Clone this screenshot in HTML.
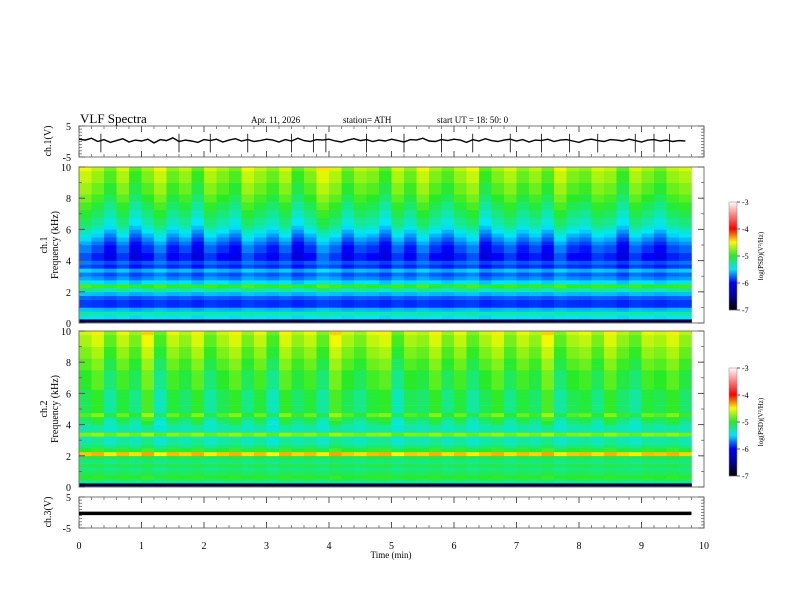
<!DOCTYPE html>
<html><head><meta charset="utf-8"><style>
html,body{margin:0;padding:0;background:#fff}
svg{display:block;font-family:"Liberation Serif",serif}
</style></head><body>
<svg id="chart" width="792" height="612" viewBox="0 0 792 612" xmlns="http://www.w3.org/2000/svg">
<g font-size="11">
<text x="80" y="123" font-size="13">VLF  Spectra</text>
<text x="251" y="123" font-size="9">Apr. 11, 2026</text>
<text x="343" y="123" font-size="9">station= ATH</text>
<text x="437" y="123" font-size="9">start  UT  =   18: 50: 0</text>
</g>
<g id="plots"></g>
</svg>
<script>
// ---------- data ----------
const timeTicks = [0,1,2,3,4,5,6,7,8,9,10];
const freqTicks = [0,2,4,6,8,10];
const cbTicks = [-3,-4,-5,-6,-7];
// log PSD profile per 0.25 kHz bin, from 0 kHz upward
const profile1 = [-6.8,-5.5,-5.3,-5.6,-5.9,-5.9,-5.8,-5.6,-5.3,-5.0,-5.5,-5.7,-5.8,-5.6,-5.9,-5.8,-6.0,-6.0,-5.9,-5.9,-5.8,-5.7,-5.6,-5.5,-5.4,-5.3,-5.3,-5.2,-5.2,-5.1,-5.1,-5.0,-5.0,-4.9,-4.9,-4.9,-4.8,-4.8,-4.8,-4.7];
const profile2 = [-6.8,-5.2,-5.0,-5.1,-5.2,-5.1,-5.2,-5.1,-4.4,-5.0,-5.2,-5.3,-5.3,-4.8,-5.3,-5.3,-5.2,-5.1,-4.9,-5.1,-5.1,-5.1,-5.1,-5.1,-5.1,-5.0,-5.0,-5.0,-5.0,-5.0,-4.9,-4.9,-4.9,-4.8,-4.8,-4.8,-4.7,-4.7,-4.7,-4.6];
// burst intensity per 0.2-min column
const bursts1 = [0.3,0.1,-0.2,0.2,-0.3,0.0,0.3,-0.1,0.1,-0.3,0.2,0.0,-0.2,0.3,0.1,-0.1,0.2,-0.3,0.0,0.4,0.2,-0.2,0.1,0.0,-0.3,0.2,-0.1,0.3,0.0,-0.2,0.1,0.3,-0.3,0.0,0.2,-0.1,0.1,-0.2,0.3,0.0,-0.1,0.2,0.1,-0.3,0.2,0.0,-0.2,0.1,0.2];
const bursts2 = [0.0,0.2,-0.3,0.1,-0.2,0.3,-0.4,0.1,-0.1,0.2,-0.3,0.0,0.2,-0.2,0.1,-0.4,0.2,-0.1,0.1,-0.3,0.3,0.0,-0.2,0.1,0.2,-0.4,0.0,-0.1,0.2,-0.2,0.1,-0.3,0.0,0.2,-0.2,0.1,-0.1,0.3,-0.3,0.0,0.1,-0.2,0.2,-0.1,-0.3,0.1,0.0,0.2,-0.1];
// ch1 waveform (V) sampled every 0.1 min
const ch1 = [1.0,0.8,1.2,0.5,0.9,0.3,0.7,1.1,0.4,0.8,0.6,1.0,0.2,0.9,0.7,1.3,0.5,0.8,0.6,0.3,0.9,0.7,1.0,0.4,0.8,1.1,0.6,0.9,0.5,0.7,1.0,0.8,0.4,0.9,0.6,1.2,0.7,0.5,0.9,0.8,1.0,0.6,0.4,0.8,1.1,0.7,0.9,0.5,0.8,0.6,1.0,0.7,0.4,0.9,0.8,1.2,0.6,0.5,0.9,0.7,1.0,0.8,0.3,0.9,0.6,1.1,0.7,0.5,0.8,1.0,0.6,0.9,0.4,0.8,0.7,1.0,0.5,0.8,0.9,0.6,0.3,0.8,1.0,0.7,0.5,0.9,0.8,0.6,1.0,0.7,0.4,0.8,0.9,0.6,0.8,0.5,0.7,0.6];
const ch1Spikes = [0.35,1.6,2.1,2.7,3.4,3.75,3.95,4.6,5.2,5.8,6.3,6.9,7.4,7.85,8.3,8.9,9.2,9.45];
const ch3Level = -0.3;

// ---------- layout ----------
const NS="http://www.w3.org/2000/svg";
const root=document.getElementById('plots');
const X0=79, X1=704;
const xs=t=>X0+(X1-X0)*t/10;
function el(tag,attrs,parent){const e=document.createElementNS(NS,tag);for(const k in attrs)e.setAttribute(k,attrs[k]);(parent||root).appendChild(e);return e;}
const stops=[[-7,[0,0,0]],[-6.5,[0,0,160]],[-6,[0,0,255]],[-5.5,[0,230,255]],[-5,[40,235,40]],[-4.5,[250,250,0]],[-4,[255,0,0]],[-3,[255,255,255]]];
function cmap(v){v=Math.max(-7,Math.min(-3,v));for(let i=0;i<stops.length-1;i++){const[a,ca]=stops[i],[b,cb]=stops[i+1];if(v<=b){const f=(v-a)/(b-a);return`rgb(${ca.map((c,j)=>Math.round(c+(cb[j]-c)*f)).join(',')})`;}}return'#fff';}

function frame(name,top,bot){
  const g=el('g',{});
  el('rect',{x:X0,y:top,width:X1-X0,height:bot-top,fill:'none',stroke:'#777','stroke-width':1},g);
  for(let t=0;t<=10.001;t+=0.2){const x=xs(t);const major=Math.abs(t-Math.round(t))<0.01;const L=major?6:3;
    el('line',{x1:x,y1:top,x2:x,y2:top+L,stroke:'#555','stroke-width':major?1:0.7},g);
    el('line',{x1:x,y1:bot,x2:x,y2:bot-L,stroke:'#555','stroke-width':major?1:0.7},g);}
  return g;
}
function yaxis(g,top,bot,lo,hi,ticks,minor){
  const ys=v=>bot-(v-lo)/(hi-lo)*(bot-top);
  for(let v=lo;v<=hi+1e-6;v+=minor){const y=ys(v);el('line',{x1:X0,y1:y,x2:X0+3,y2:y,stroke:'#555','stroke-width':0.7},g);el('line',{x1:X1,y1:y,x2:X1-3,y2:y,stroke:'#555','stroke-width':0.7},g);}
  ticks.forEach(v=>{const y=ys(v);el('line',{x1:X0,y1:y,x2:X0+6,y2:y,stroke:'#555'},g);el('line',{x1:X1,y1:y,x2:X1-6,y2:y,stroke:'#555'},g);
    const t=el('text',{x:X0-8,y:y+4,'text-anchor':'end','font-size':10},g);t.textContent=(v<0?'-':'')+Math.abs(v);
    
    });
  return ys;
}
function rotText(g,x,y,txt,size,name){const t=el('text',{x:0,y:0,transform:`translate(${x},${y}) rotate(-90)`,'text-anchor':'middle','font-size':size},g);t.textContent=txt;
  
  return t;}

// ch1 panel
{const top=126,bot=157;const g=frame('ch1-panel',top,bot);
 const ys=yaxis(g,top,bot,-5,5,[5,-5],1);
 rotText(g,51,141,'ch.1(V)',10,'ch1-axis-title');
 let d='';ch1.forEach((v,i)=>{d+=(i?'L':'M')+xs(i*0.1).toFixed(1)+','+ys((v-0.7)*1.5+0.3).toFixed(1);});
 const p=el('path',{d,fill:'none',stroke:'#000','stroke-width':1.4},g);
 ch1Spikes.forEach(t=>{const s=el('line',{x1:xs(t),y1:ys(2.5),x2:xs(t),y2:ys(-3.5),stroke:'#000','stroke-width':0.8},g);
   
   });
}
function spectro(name,top,bot,profile,bursts,label,cbTop){
  const g=frame(name,top,bot);
  const fy=f=>bot-f/10*(bot-top);
  const cells=el('g',{},g);
  bursts.forEach((b,i)=>{profile.forEach((p,j)=>{const f=j*0.25;const w=f>=4?0.6:(f>=2?0.25:0.1);
    el('rect',{x:xs(i*0.2),y:fy(f+0.25),width:xs(0.2)-xs(0)+0.3,height:fy(0)-fy(0.25)+0.3,fill:cmap(p+b*w)},cells);
  });});
  el('rect',{x:X0,y:top,width:X1-X0,height:bot-top,fill:'none',stroke:'#777'},g);
  yaxis(g,top,bot,0,10,freqTicks,1);
  rotText(g,47,(top+bot)/2,label,10,name+'-channel-title');
  rotText(g,58,(top+bot)/2,'Frequency (kHz)',10,name+'-y-axis-title');
  const cb=el('g',{},g);
  const cbBot=cbTop+108;
  for(let k=0;k<108;k++){el('rect',{x:729,y:cbBot-k-1,width:8,height:1.2,fill:cmap(-7+4*k/108)},cb);}
  el('rect',{x:729,y:cbTop,width:8,height:108,fill:'none',stroke:'#888','stroke-width':0.5},cb);
  cbTicks.forEach(v=>{const y=cbBot-(v+7)/4*108;el('line',{x1:737,y1:y,x2:740,y2:y,stroke:'#555'},cb);
    const t=el('text',{x:742,y:y+3,'font-size':8},cb);t.textContent='-'+Math.abs(v);
    
    });
  rotText(cb,763,cbTop+54,'log(PSD)(V²/Hz)',7,'colorbar-title');
}
spectro('ch1-spectrogram',167,323,profile1,bursts1,'ch.1',202);
spectro('ch2-spectrogram',331,487,profile2,bursts2,'ch.2',368);

// ch3 panel
{const top=497,bot=528;const g=frame('ch3-panel',top,bot);
 const ys=yaxis(g,top,bot,-5,5,[5,-5],1);
 rotText(g,51,512,'ch.3(V)',10,'ch3-axis-title');
 const l=el('line',{x1:xs(0),y1:ys(ch3Level),x2:xs(9.8),y2:ys(ch3Level),stroke:'#000','stroke-width':3.5},g);
 
 
 timeTicks.forEach(t=>{const tx=el('text',{x:xs(t),y:549,'text-anchor':'middle','font-size':10},g);tx.textContent=t;
   
   });
 const xt=el('text',{x:391,y:558,'text-anchor':'middle','font-size':9},g);xt.textContent='Time  (min)';
 
 
}
</script>
</body></html>
